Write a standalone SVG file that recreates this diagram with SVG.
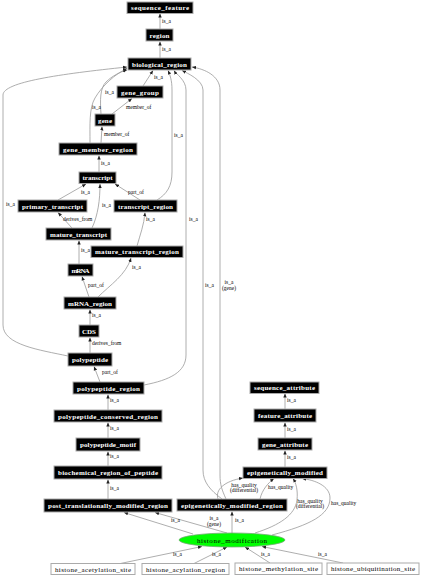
<svg xmlns="http://www.w3.org/2000/svg" width="421" height="576" viewBox="0 0 421 576">
<style>
.n rect{fill:#000;stroke:#aaa;stroke-width:1}
.n text{fill:#fff;font-family:"Liberation Serif",serif;font-size:7px;font-weight:bold;text-anchor:middle}
.w rect{fill:#fff;stroke:#aaa;stroke-width:1}
.w text{fill:#000;font-family:"Liberation Serif",serif;font-size:7px;text-anchor:middle}
.e path{fill:none;stroke:#999;stroke-width:0.8;marker-end:url(#a)}
.l text{font-family:"Liberation Serif",serif;font-size:5.5px;fill:#000}
</style>
<defs>
<marker id="a" markerWidth="4" markerHeight="4" refX="4" refY="2" orient="auto" markerUnits="userSpaceOnUse"><path d="M0,0.3 L4,2 L0,3.7 z" fill="#222"/></marker>
</defs>
<rect width="421" height="576" fill="#fff"/>
<g id="edges" class="e">
<path d="M160,29 L160,13.5"/>
<path d="M160,58 L160,41.5"/>
<path d="M143,86 L153,70.5"/>
<path d="M112,114 L132,98.5"/>
<path d="M101,114 C100,100 100,88 106,82 C112,76 120,72 127,70"/>
<path d="M90,143 C90,125 89,108 95,98 C102,86 115,74 127,68.5"/>
<path d="M101,143 L102,126.5"/>
<path d="M99,172 L99,155.5"/>
<path d="M58,200 L86,184"/>
<path d="M140,200 L115,184"/>
<path d="M157,200 C167,194 172,186 172,172 L172,90 C172,80 170,75 168,70.5"/>
<path d="M72,228 L58,212.5"/>
<path d="M92,228 C98,215 100,200 100,184"/>
<path d="M137,246 C140,235 144,225 145,212.5"/>
<path d="M79,264 L79,240.5"/>
<path d="M89,297 L82,276.5"/>
<path d="M98,297 C110,285 126,275 131,258"/>
<path d="M90,325 L90,309.5"/>
<path d="M90,353 L90,337.5"/>
<path d="M100,382 L94,366.5"/>
<path d="M68,356 C40,350 3,345 3,325 L3,95 C3,82 60,74 127,67"/>
<path d="M144,385 C170,380 186,372 186,355 L186,90 C186,80 176,74 174,70.5"/>
<path d="M108,410 L108,394.5"/>
<path d="M108,438 L108,422.5"/>
<path d="M108,466 L108,451.5"/>
<path d="M108,499 L108,479.5"/>
<path d="M193,534 L124,512.5"/>
<path d="M227,533 L155,512.5"/>
<path d="M232,533 L232,511.5"/>
<path d="M222,499 C210,490 203,482 203,470 L203,90 C203,80 187,73 182,70.5"/>
<path d="M226,499 C222,490 220,485 220,475 L220,90 C220,76 205,69 192,67"/>
<path d="M218,499 C215,490 224,481 243,478"/>
<path d="M260,499 C262,490 268,483 274,478.5"/>
<path d="M255,533 C280,525 295,515 297,500 C298,490 296,483 293,478.5"/>
<path d="M272,535 C310,525 330,515 330,498 C330,486 315,480 302,478.5"/>
<path d="M285,467 L285,450.5"/>
<path d="M285,438 L285,422.5"/>
<path d="M285,409 L285,393.5"/>
<path d="M118,564 L202,546.5"/>
<path d="M193,564 L227,547"/>
<path d="M270,563 L245,547"/>
<path d="M343,563 L262,546.5"/>
</g>
<g id="labels" class="l">
<text x="162" y="23">is_a</text>
<text x="162" y="51">is_a</text>
<text x="154" y="79">is_a</text>
<text x="126" y="109">member_of</text>
<text x="105" y="94">is_a</text>
<text x="92" y="109">is_a</text>
<text x="104" y="136">member_of</text>
<text x="101" y="165">is_a</text>
<text x="81" y="194">is_a</text>
<text x="128" y="194">part_of</text>
<text x="174" y="137">is_a</text>
<text x="63" y="221">derives_from</text>
<text x="102" y="207">is_a</text>
<text x="146" y="221">is_a</text>
<text x="81" y="252">is_a</text>
<text x="88" y="287">part_of</text>
<text x="132" y="269">is_a</text>
<text x="92" y="317">is_a</text>
<text x="92" y="345">derives_from</text>
<text x="102" y="374">part_of</text>
<text x="6" y="206">is_a</text>
<text x="189" y="221">is_a</text>
<text x="110" y="402">is_a</text>
<text x="110" y="430">is_a</text>
<text x="110" y="458">is_a</text>
<text x="110" y="490">is_a</text>
<text x="171" y="522">is_a</text>
<text x="214" y="520" text-anchor="middle">is_a</text>
<text x="214" y="526" text-anchor="middle">(gene)</text>
<text x="235" y="522">is_a</text>
<text x="205" y="287">is_a</text>
<text x="229" y="284" text-anchor="middle">is_a</text>
<text x="229" y="290" text-anchor="middle">(gene)</text>
<text x="244" y="487" text-anchor="middle">has_quality</text>
<text x="244" y="492" text-anchor="middle">(differential)</text>
<text x="268" y="489">has_quality</text>
<text x="310" y="503" text-anchor="middle">has_quality</text>
<text x="310" y="508" text-anchor="middle">(differential)</text>
<text x="331" y="505">has_quality</text>
<text x="287" y="459">is_a</text>
<text x="287" y="431">is_a</text>
<text x="287" y="402">is_a</text>
<text x="173" y="556">is_a</text>
<text x="212" y="556">is_a</text>
<text x="261" y="556">is_a</text>
<text x="318" y="556">is_a</text>
</g>
<g id="sequence_feature" class="n"><rect x="127" y="2" width="66" height="11.5"/><text x="160" y="10.3" textLength="58" lengthAdjust="spacing">sequence_feature</text></g>
<g id="region" class="n"><rect x="146" y="29" width="27" height="12"/><text x="159.5" y="37.5" textLength="20" lengthAdjust="spacing">region</text></g>
<g id="biological_region" class="n"><rect x="128" y="58" width="63" height="12"/><text x="159.5" y="66.5" textLength="55" lengthAdjust="spacing">biological_region</text></g>
<g id="gene_group" class="n"><rect x="117" y="86" width="46" height="12"/><text x="140" y="94.5" textLength="38" lengthAdjust="spacing">gene_group</text></g>
<g id="gene" class="n"><rect x="95" y="114" width="20" height="12"/><text x="105" y="122.5" textLength="14" lengthAdjust="spacing">gene</text></g>
<g id="gene_member_region" class="n"><rect x="59" y="143" width="78" height="12"/><text x="98" y="151.5" textLength="70" lengthAdjust="spacing">gene_member_region</text></g>
<g id="transcript" class="n"><rect x="79" y="172" width="37" height="11.5"/><text x="97.5" y="180.3" textLength="30" lengthAdjust="spacing">transcript</text></g>
<g id="primary_transcript" class="n"><rect x="18" y="200" width="69" height="12"/><text x="52.5" y="208.5" textLength="61" lengthAdjust="spacing">primary_transcript</text></g>
<g id="transcript_region" class="n"><rect x="114" y="200" width="63" height="12"/><text x="145.5" y="208.5" textLength="55" lengthAdjust="spacing">transcript_region</text></g>
<g id="mature_transcript" class="n"><rect x="46" y="228" width="65" height="12"/><text x="78.5" y="236.5" textLength="57" lengthAdjust="spacing">mature_transcript</text></g>
<g id="mature_transcript_region" class="n"><rect x="91" y="246" width="92" height="11.5"/><text x="137" y="254.3" textLength="84" lengthAdjust="spacing">mature_transcript_region</text></g>
<g id="mRNA" class="n"><rect x="68" y="264" width="25" height="12"/><text x="80.5" y="272.5" textLength="18" lengthAdjust="spacing">mRNA</text></g>
<g id="mRNA_region" class="n"><rect x="64" y="297" width="52" height="12"/><text x="90" y="305.5" textLength="44" lengthAdjust="spacing">mRNA_region</text></g>
<g id="CDS" class="n"><rect x="79" y="325" width="20" height="12"/><text x="89" y="333.5" textLength="14" lengthAdjust="spacing">CDS</text></g>
<g id="polypeptide" class="n"><rect x="68" y="353" width="44" height="13"/><text x="90" y="362" textLength="36" lengthAdjust="spacing">polypeptide</text></g>
<g id="polypeptide_region" class="n"><rect x="73" y="382" width="71" height="12"/><text x="108.5" y="390.5" textLength="63" lengthAdjust="spacing">polypeptide_region</text></g>
<g id="polypeptide_conserved_region" class="n"><rect x="54" y="410" width="108" height="12"/><text x="108" y="418.5" textLength="100" lengthAdjust="spacing">polypeptide_conserved_region</text></g>
<g id="polypeptide_motif" class="n"><rect x="76" y="438" width="64" height="13"/><text x="108" y="447" textLength="56" lengthAdjust="spacing">polypeptide_motif</text></g>
<g id="biochemical_region_of_peptide" class="n"><rect x="54" y="466" width="108" height="13"/><text x="108" y="475" textLength="100" lengthAdjust="spacing">biochemical_region_of_peptide</text></g>
<g id="post_translationally_modified_region" class="n"><rect x="44" y="499" width="128" height="13"/><text x="108" y="508" textLength="120" lengthAdjust="spacing">post_translationally_modified_region</text></g>
<g id="sequence_attribute" class="n"><rect x="250" y="382" width="69" height="11.5"/><text x="284.5" y="390.3" textLength="61" lengthAdjust="spacing">sequence_attribute</text></g>
<g id="feature_attribute" class="n"><rect x="254" y="409" width="62" height="13"/><text x="285" y="418" textLength="54" lengthAdjust="spacing">feature_attribute</text></g>
<g id="gene_attribute" class="n"><rect x="258" y="438" width="54" height="12"/><text x="285" y="446.5" textLength="46" lengthAdjust="spacing">gene_attribute</text></g>
<g id="epigenetically_modified" class="n"><rect x="243" y="467" width="84" height="11.5"/><text x="285" y="475.3" textLength="76" lengthAdjust="spacing">epigenetically_modified</text></g>
<g id="epigenetically_modified_region" class="n"><rect x="177" y="499" width="110" height="12"/><text x="232" y="507.5" textLength="102" lengthAdjust="spacing">epigenetically_modified_region</text></g>
<g id="histone_modification" class="w"><ellipse cx="232" cy="540" rx="53" ry="7" fill="#00ff00" stroke="#7a7" stroke-width="0.8"/><text x="232" y="542.5" textLength="70" lengthAdjust="spacing">histone_modification</text></g>
<g id="histone_acetylation_site" class="w"><rect x="51" y="563.5" width="84" height="11"/><text x="93" y="571.5" textLength="76" lengthAdjust="spacing">histone_acetylation_site</text></g>
<g id="histone_acylation_region" class="w"><rect x="142" y="563.5" width="87" height="11"/><text x="185.5" y="571.5" textLength="79" lengthAdjust="spacing">histone_acylation_region</text></g>
<g id="histone_methylation_site" class="w"><rect x="235" y="563" width="87" height="11.5"/><text x="278.5" y="571.3" textLength="79" lengthAdjust="spacing">histone_methylation_site</text></g>
<g id="histone_ubiquitination_site" class="w"><rect x="327" y="563" width="92" height="11.5"/><text x="373" y="571.3" textLength="84" lengthAdjust="spacing">histone_ubiquitination_site</text></g>
</svg>
